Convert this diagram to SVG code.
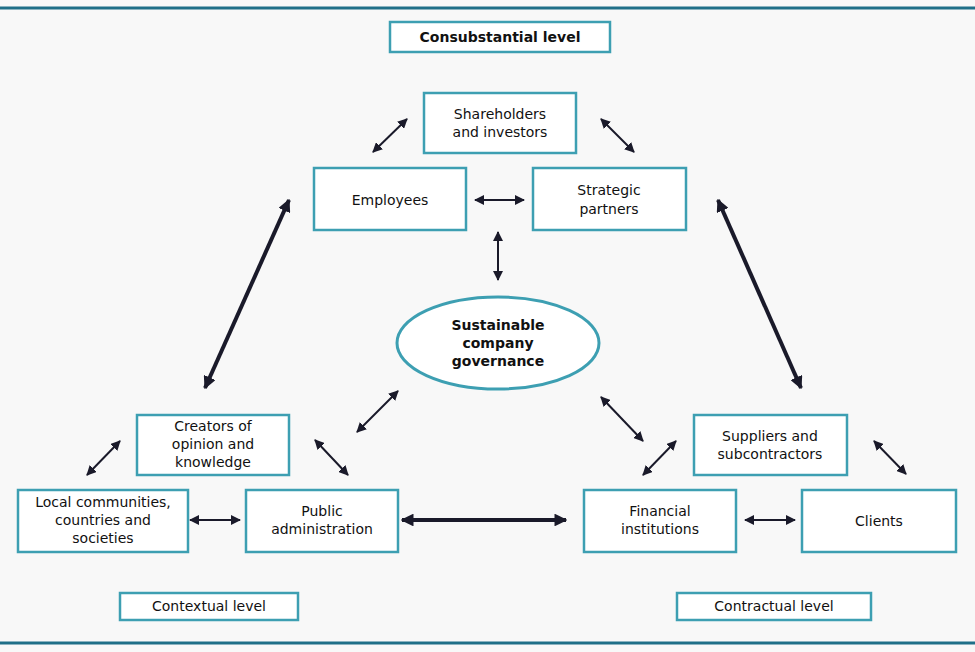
<svg xmlns="http://www.w3.org/2000/svg" width="975" height="652" viewBox="0 0 975 652">
<style>
.b{fill:#fff;stroke:#3d9fb2;stroke-width:2.5}
text{font-family:"DejaVu Sans",sans-serif;font-size:14px;fill:#111;text-anchor:middle}
.t{stroke:#1a1a2a;stroke-width:2;fill:none}
.k{stroke:#1a1a2a;stroke-width:4;fill:none}
</style>
<defs>
<marker id="a" viewBox="0 0 10 10" refX="9" refY="5" markerWidth="5" markerHeight="5" orient="auto-start-reverse" markerUnits="strokeWidth"><path d="M0,0L10,5L0,10z" fill="#1a1a2a"/></marker>
<marker id="a2" viewBox="0 0 10 10" refX="9" refY="5" markerWidth="3.2" markerHeight="3.2" orient="auto-start-reverse" markerUnits="strokeWidth"><path d="M0,0L10,5L0,10z" fill="#1a1a2a"/></marker>
</defs>
<rect width="975" height="652" fill="#f8f8f8"/>
<line x1="0" y1="8" x2="975" y2="8" stroke="#1f6f88" stroke-width="3"/>
<line x1="0" y1="643" x2="975" y2="643" stroke="#1f6f88" stroke-width="3"/>
<g id="consubstantial"><rect class="b" x="390" y="22" width="220" height="30"/><text x="500" y="42" font-weight="bold">Consubstantial level</text></g>
<g id="shareholders"><rect class="b" x="424" y="93" width="152" height="60"/><text x="500" y="119">Shareholders</text><text x="500" y="137">and investors</text></g>
<g id="employees"><rect class="b" x="314" y="168" width="152" height="62"/><text x="390" y="205">Employees</text></g>
<g id="strategic"><rect class="b" x="533" y="168" width="153" height="62"/><text x="609" y="195">Strategic</text><text x="609" y="214">partners</text></g>
<g id="governance"><ellipse cx="498" cy="343" rx="101" ry="46" fill="#fff" stroke="#3d9fb2" stroke-width="3"/><text x="498" y="330" font-weight="bold">Sustainable</text><text x="498" y="348" font-weight="bold">company</text><text x="498" y="366" font-weight="bold">governance</text></g>
<g id="creators"><rect class="b" x="137" y="415" width="152" height="60"/><text x="213" y="431">Creators of</text><text x="213" y="449">opinion and</text><text x="213" y="467">knowledge</text></g>
<g id="local"><rect class="b" x="18" y="490" width="170" height="62"/><text x="103" y="507">Local communities,</text><text x="103" y="525">countries and</text><text x="103" y="543">societies</text></g>
<g id="public"><rect class="b" x="246" y="490" width="152" height="62"/><text x="322" y="516">Public</text><text x="322" y="534">administration</text></g>
<g id="financial"><rect class="b" x="584" y="490" width="152" height="62"/><text x="660" y="516">Financial</text><text x="660" y="534">institutions</text></g>
<g id="clients"><rect class="b" x="802" y="490" width="154" height="62"/><text x="879" y="526">Clients</text></g>
<g id="suppliers"><rect class="b" x="694" y="415" width="153" height="60"/><text x="770" y="441">Suppliers and</text><text x="770" y="459">subcontractors</text></g>
<g id="contextual"><rect class="b" x="120" y="593" width="178" height="27"/><text x="209" y="611">Contextual level</text></g>
<g id="contractual"><rect class="b" x="677" y="593" width="194" height="27"/><text x="774" y="611">Contractual level</text></g>
<g id="connectors">
<g class="t" marker-start="url(#a)" marker-end="url(#a)">
<line x1="373" y1="152" x2="407" y2="119"/>
<line x1="601" y1="119" x2="634" y2="152"/>
<line x1="475" y1="200" x2="524" y2="200"/>
<line x1="498" y1="232" x2="498" y2="280"/>
<line x1="357" y1="432" x2="398" y2="391"/>
<line x1="315" y1="440" x2="348" y2="475"/>
<line x1="87" y1="475" x2="120" y2="441"/>
<line x1="190" y1="520" x2="240" y2="520"/>
<line x1="601" y1="397" x2="643" y2="441"/>
<line x1="643" y1="475" x2="676" y2="441"/>
<line x1="874" y1="441" x2="906" y2="474"/>
<line x1="745" y1="520" x2="795" y2="520"/>
</g>
<g class="k" marker-start="url(#a2)" marker-end="url(#a2)">
<line x1="289" y1="200" x2="205" y2="388"/>
<line x1="718" y1="200" x2="801" y2="388"/>
<line x1="402" y1="520" x2="566" y2="520"/>
</g>
</g>
</svg>
